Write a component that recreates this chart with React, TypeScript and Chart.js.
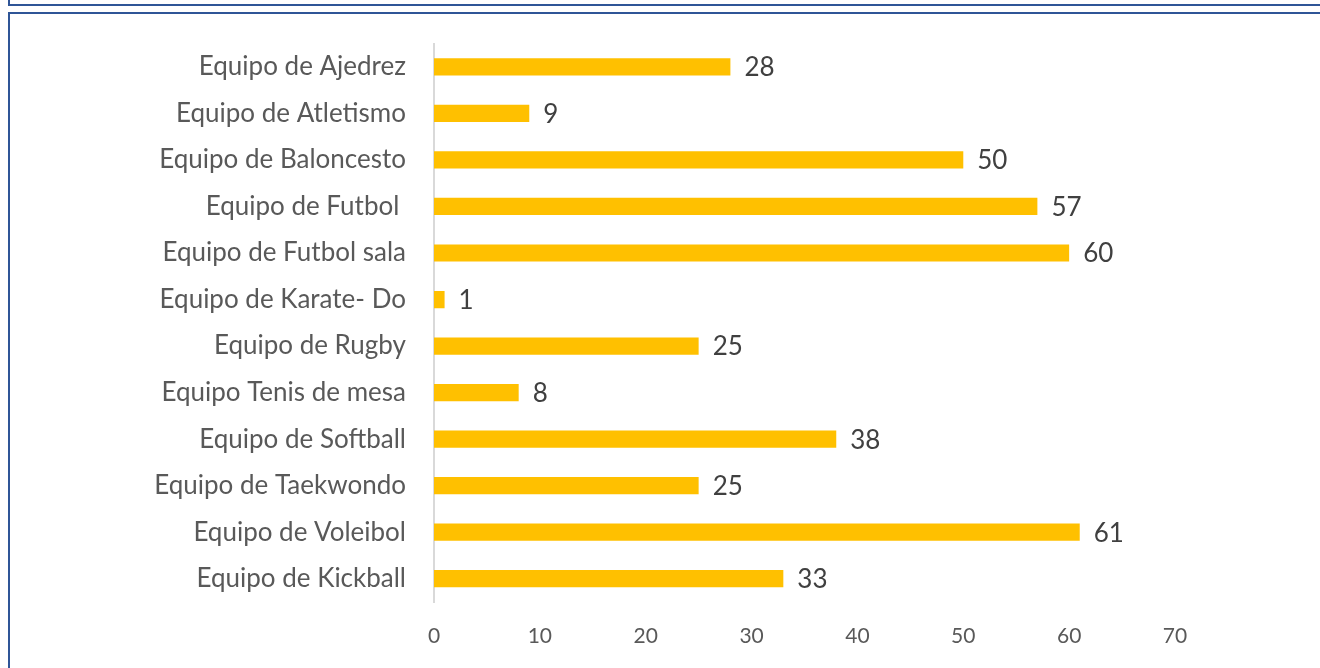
import React, { useEffect, useRef } from "react";
import { Chart, registerables } from "chart.js";

Chart.register(...registerables);

const categories = [
  "Equipo de Ajedrez",
  "Equipo de Atletismo",
  "Equipo de Baloncesto",
  "Equipo de Futbol ",
  "Equipo de Futbol sala",
  "Equipo de Karate- Do",
  "Equipo de Rugby",
  "Equipo Tenis de mesa",
  "Equipo de Softball",
  "Equipo de Taekwondo",
  "Equipo de Voleibol",
  "Equipo de Kickball",
];
const values = [28, 9, 50, 57, 60, 1, 25, 8, 38, 25, 61, 33];
const xTicks = [0, 10, 20, 30, 40, 50, 60, 70];

const FONT = "Lato, 'Open Sans', sans-serif";

const dataLabels = {
  id: "dataLabels",
  afterDatasetsDraw(chart: any) {
    const ctx = chart.ctx;
    const meta = chart.getDatasetMeta(0);
    ctx.save();
    ctx.font = `26px ${FONT}`;
    ctx.fillStyle = "#404040";
    ctx.textAlign = "left";
    ctx.textBaseline = "middle";
    meta.data.forEach((bar: any, i: number) => {
      ctx.fillText(String(values[i]), bar.x + 14, bar.y + 1);
    });
    ctx.restore();
  },
};

export default function App() {
  const ref = useRef<HTMLCanvasElement | null>(null);
  useEffect(() => {
    if (!ref.current) return;
    const chart = new Chart(ref.current, {
      type: "bar",
      data: {
        labels: categories,
        datasets: [
          {
            data: values,
            backgroundColor: "#FFC000",
            borderWidth: 0,
            barPercentage: 0.37,
            categoryPercentage: 1,
          },
        ],
      },
      options: {
        indexAxis: "y",
        animation: false,
        responsive: false,
        maintainAspectRatio: false,
        layout: { padding: { left: 0, right: 145, top: 42, bottom: 0 } },
        plugins: {
          legend: { display: false },
          tooltip: { enabled: false },
        },
        scales: {
          x: {
            min: 0,
            max: 70,
            afterBuildTicks: (scale: any) => {
              scale.ticks = xTicks.map((v) => ({ value: v }));
            },
            grid: { display: false, drawTicks: false },
            border: { display: false },
            ticks: {
              color: "#595959",
              font: { family: FONT, size: 21 },
              padding: 22,
            },
            afterFit: (scale: any) => {
              scale.height = 66;
            },
          },
          y: {
            grid: { display: false, drawTicks: false },
            border: { display: true, color: "#D9D9D9", width: 2 },
            ticks: {
              color: "#595959",
              font: { family: FONT, size: 26 },
              padding: 28,
            },
            afterFit: (scale: any) => {
              scale.width = 434;
            },
          },
        },
      },
      plugins: [dataLabels],
    });
    return () => chart.destroy();
  }, []);

  return (
    <div
      style={{
        position: "fixed",
        left: 0,
        top: 0,
        width: 1320,
        height: 668,
        background: "#ffffff",
        overflow: "hidden",
      }}
    >
      <canvas
        ref={ref}
        width={1320}
        height={668}
        style={{ position: "absolute", left: 0, top: 0, width: 1320, height: 668 }}
      />
      <div
        style={{
          position: "absolute",
          left: 8,
          top: -20,
          width: 1330,
          height: 24,
          borderLeft: "2px solid #2F5597",
          borderBottom: "2px solid #2F5597",
        }}
      />
      <div
        style={{
          position: "absolute",
          left: 8,
          top: 12,
          width: 1330,
          height: 700,
          borderLeft: "2px solid #2F5597",
          borderTop: "2px solid #2F5597",
        }}
      />
    </div>
  );
}
